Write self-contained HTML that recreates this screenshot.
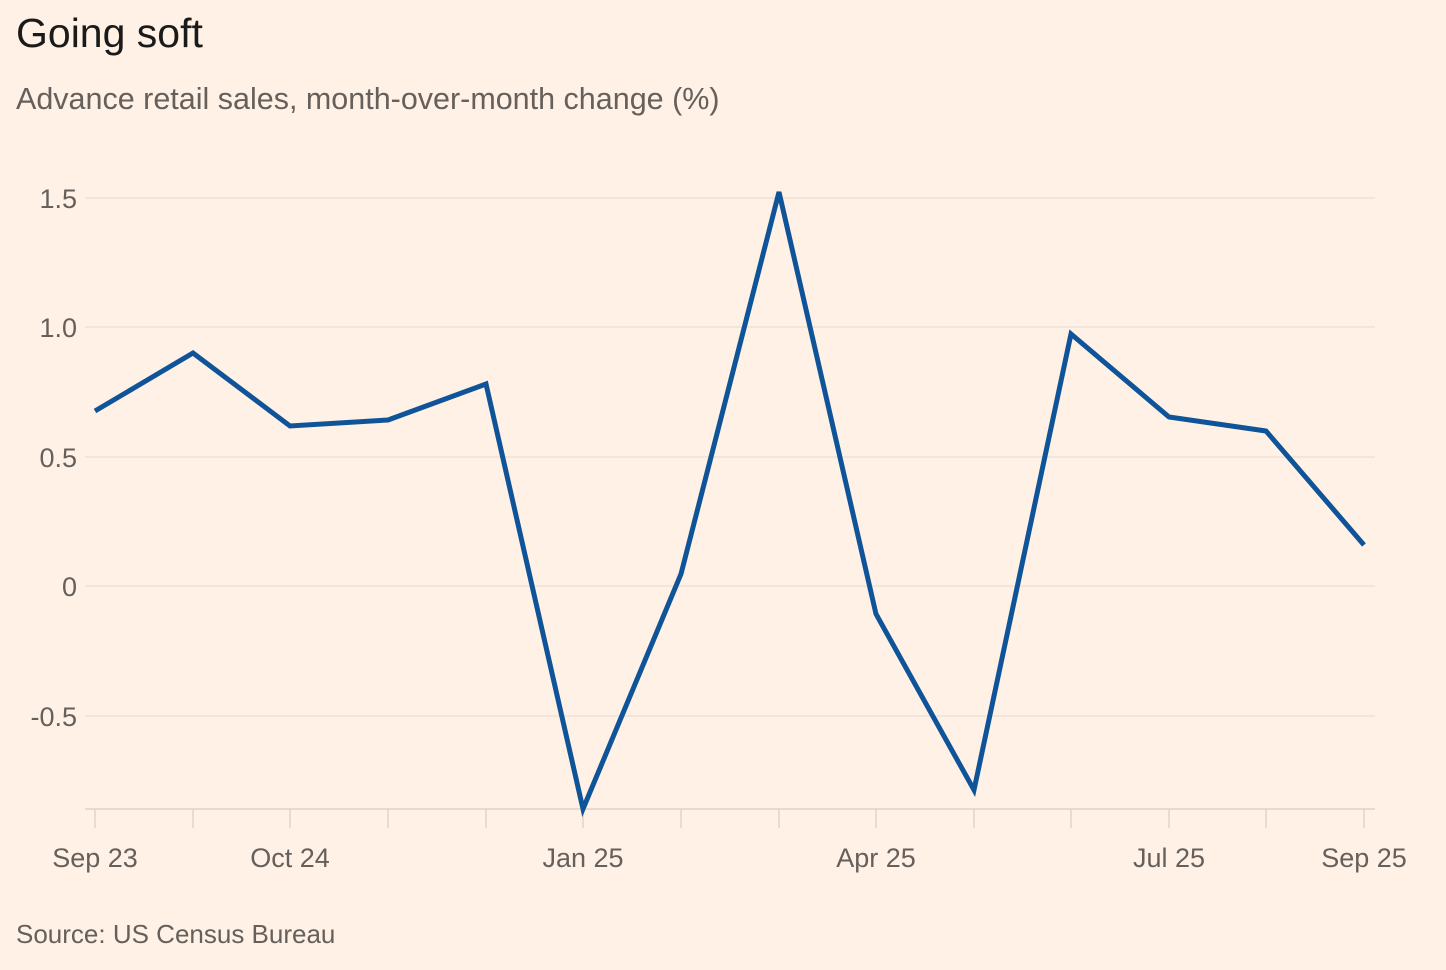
<!DOCTYPE html>
<html><head><meta charset="utf-8"><style>
html,body{margin:0;padding:0;background:#fff1e5;}
body{width:1446px;height:970px;overflow:hidden;font-family:"Liberation Sans",sans-serif;}
</style></head><body>
<svg width="1446" height="970" xmlns="http://www.w3.org/2000/svg" style="display:block">
<rect width="1446" height="970" fill="#fff1e5"/>
<text x="16" y="47" font-size="41" fill="#1a1a1a" font-family="Liberation Sans, sans-serif">Going soft</text>
<text x="16" y="109" font-size="30.5" fill="#66605c" font-family="Liberation Sans, sans-serif">Advance retail sales, month-over-month change (%)</text>
<g stroke="#ebe0d6" stroke-width="1.2">
<line x1="85" y1="198" x2="1375" y2="198"/>
<line x1="85" y1="327" x2="1375" y2="327"/>
<line x1="85" y1="457" x2="1375" y2="457"/>
<line x1="85" y1="586" x2="1375" y2="586"/>
<line x1="85" y1="716" x2="1375" y2="716"/>
</g>
<line x1="85" y1="809" x2="1375" y2="809" stroke="#d9cdc3" stroke-width="1.2"/>
<g stroke="#d9cdc3" stroke-width="1.2">
<line x1="95" y1="809" x2="95" y2="828"/><line x1="193" y1="809" x2="193" y2="828"/><line x1="290" y1="809" x2="290" y2="828"/><line x1="388" y1="809" x2="388" y2="828"/><line x1="486" y1="809" x2="486" y2="828"/><line x1="583" y1="809" x2="583" y2="828"/><line x1="681" y1="809" x2="681" y2="828"/><line x1="779" y1="809" x2="779" y2="828"/><line x1="876" y1="809" x2="876" y2="828"/><line x1="974" y1="809" x2="974" y2="828"/><line x1="1071" y1="809" x2="1071" y2="828"/><line x1="1169" y1="809" x2="1169" y2="828"/><line x1="1266" y1="809" x2="1266" y2="828"/><line x1="1364" y1="809" x2="1364" y2="828"/>
</g>
<g font-size="27" fill="#66605c" font-family="Liberation Sans, sans-serif" text-anchor="end">
<text x="77" y="208">1.5</text><text x="77" y="337">1.0</text><text x="77" y="467">0.5</text><text x="77" y="596">0</text><text x="77" y="726">-0.5</text>
</g>
<g font-size="27" fill="#66605c" font-family="Liberation Sans, sans-serif" text-anchor="middle">
<text x="95" y="867">Sep 23</text><text x="290" y="867">Oct 24</text><text x="583" y="867">Jan 25</text><text x="876" y="867">Apr 25</text><text x="1169" y="867">Jul 25</text><text x="1364" y="867">Sep 25</text>
</g>
<polyline fill="none" stroke="#0f5499" stroke-width="5" stroke-linejoin="miter" points="95,411 193,353 290,426 388,420 486,384 583,809 681,574 779,192 876,614 974,790 1071,334 1169,417 1266,431 1364,545"/>
<text x="16" y="943" font-size="26" fill="#66605c" font-family="Liberation Sans, sans-serif">Source: US Census Bureau</text>
</svg>
</body></html>
